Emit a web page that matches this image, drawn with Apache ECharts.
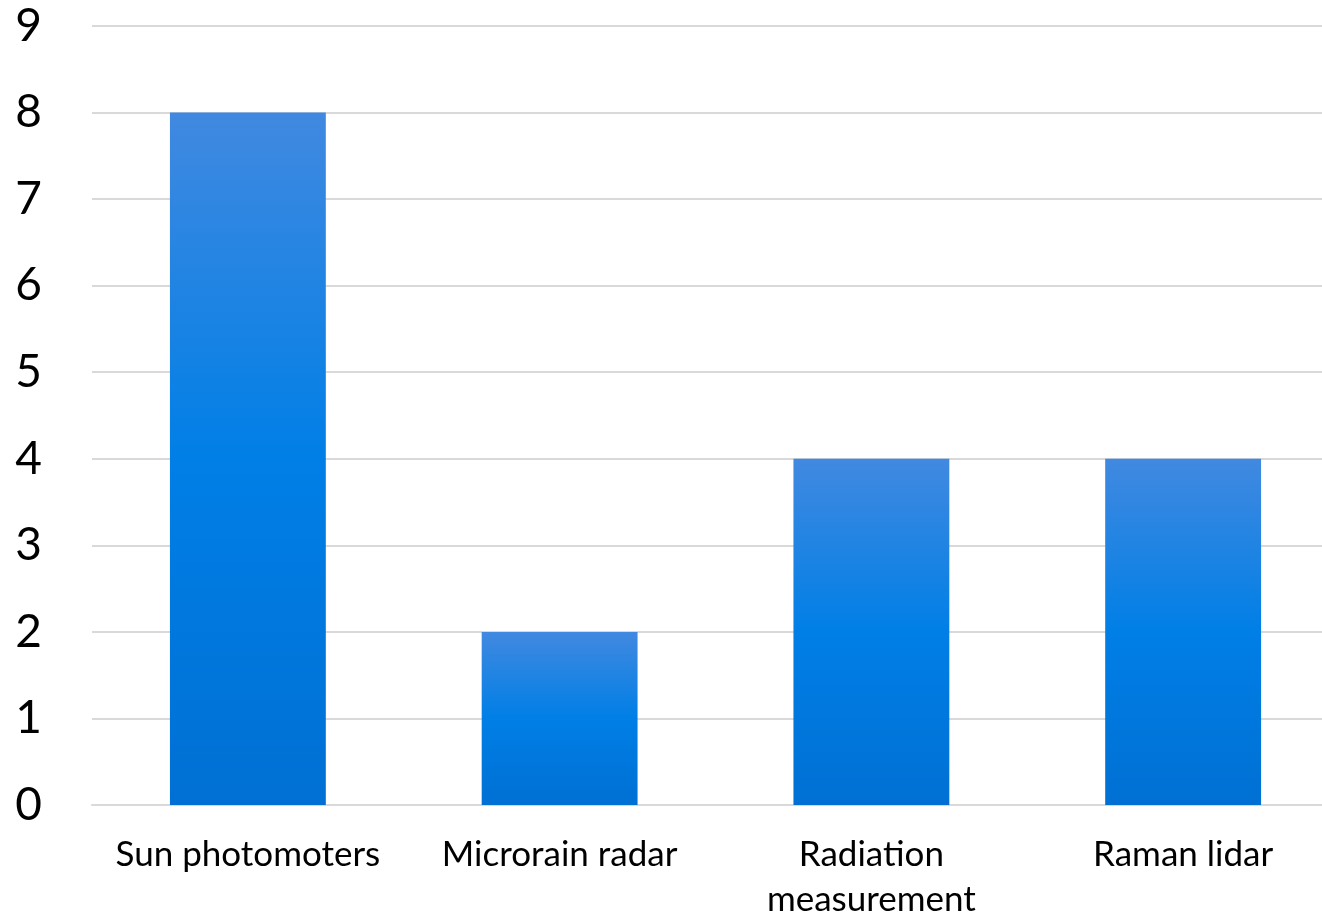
<!DOCTYPE html>
<html>
<head>
<meta charset="utf-8">
<script src="https://cdn.jsdelivr.net/npm/echarts@6/dist/echarts.min.js"></script>
<style>html,body{margin:0;padding:0;background:#fff}#c{width:1322px;height:918px}</style>
</head>
<body>
<div id="c"></div>
<script>
const categories = ['Sun photomoters', 'Microrain radar', 'Radiation\nmeasurement', 'Raman lidar'];
const values = [8, 2, 4, 4];
const yTicks = { min: 0, max: 9, interval: 1 };

const chart = echarts.init(document.getElementById('c'));
chart.setOption({
  backgroundColor: '#ffffff',
  animation: false,
  grid: { left: 92, right: -17, top: 26, bottom: 113, containLabel: false, outerBoundsMode: 'none' },
  xAxis: {
    type: 'category',
    data: categories,
    axisLine: { show: true, lineStyle: { color: '#d9d9d9', width: 2 } },
    axisTick: { show: false },
    axisLabel: { color: '#000', fontFamily: 'Lato', fontSize: 35, margin: 27, lineHeight: 45, interval: 0 }
  },
  yAxis: {
    type: 'value',
    min: yTicks.min, max: yTicks.max, interval: yTicks.interval,
    axisLine: { show: false },
    axisTick: { show: false },
    splitLine: { lineStyle: { color: '#d9d9d9', width: 2 } },
    axisLabel: { color: '#000', fontFamily: 'Lato', fontSize: 46, margin: 50 }
  },
  series: [{
    type: 'bar',
    data: values,
    barWidth: '50%',
    itemStyle: {
      color: new echarts.graphic.LinearGradient(0, 0, 0, 1, [
        { offset: 0, color: '#4189e0' },
        { offset: 0.5, color: '#007fe6' },
        { offset: 1, color: '#0070d4' }
      ])
    }
  }]
});
</script>
</body>
</html>
